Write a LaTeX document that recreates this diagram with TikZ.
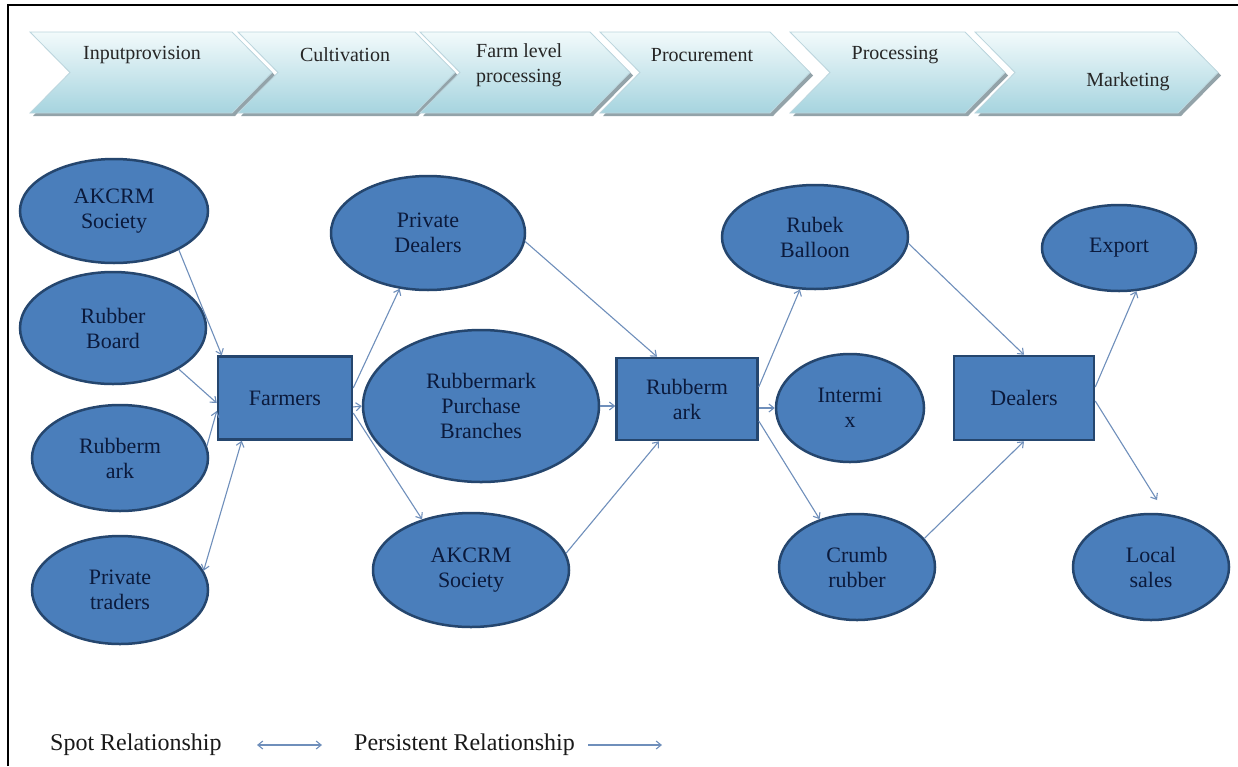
\documentclass[tikz,border=0pt]{standalone}
\usepackage{fontspec}
\setmainfont{Liberation Serif}
\usetikzlibrary{shapes.geometric,arrows.meta}
\definecolor{nodefill}{HTML}{4A7EBB}
\definecolor{nodeedge}{HTML}{25466E}
\definecolor{txt}{HTML}{0B1A3C}
\definecolor{conn}{HTML}{6F8FBB}
\definecolor{chtop}{HTML}{F2FAFB}
\definecolor{chbot}{HTML}{A6D4DF}
\definecolor{chedge}{HTML}{BCD6DE}
\definecolor{chshadow}{HTML}{93A3A9}
\newcommand{\mychev}[2]{%
  \fill[chshadow] (#1+3,35) -- (#2+3,35) -- (#2+43,75.5) -- (#2+3,116) -- (#1+3,116) -- (#1+43,75.5) -- cycle;
  \shadedraw[top color=chtop, bottom color=chbot, draw=chedge, line width=0.8pt] (#1,32) -- (#2,32) -- (#2+40,72.5) -- (#2,113) -- (#1,113) -- (#1+40,72.5) -- cycle;
}
\begin{document}
\begin{tikzpicture}[x=1pt,y=-1pt,
  oval/.style={ellipse, draw=nodeedge, line width=2.5pt, fill=nodefill, inner sep=0pt, align=center, text=txt, font=\fontsize{22}{25}\selectfont},
  boxnode/.style={rectangle, draw=nodeedge, line width=2.5pt, fill=nodefill, inner sep=0pt, align=center, text=txt, font=\fontsize{22}{25}\selectfont},
  rel/.style={draw=conn, line width=1.1pt, -{Straight Barb[length=5pt,width=8pt]}},
  spot/.style={draw=conn, line width=1.1pt, {Straight Barb[length=5pt,width=8pt]}-{Straight Barb[length=5pt,width=8pt]}},
  chtext/.style={text=black!85, font=\fontsize{20}{25}\selectfont, align=left, inner sep=0pt},
  legtext/.style={text=black!90, font=\fontsize{24}{28}\selectfont, inner sep=0pt, anchor=west},
]
\useasboundingbox (0,0) rectangle (1238,766);
\fill[white] (0,0) rectangle (1238,766);
% frame
\draw[line width=2.5pt, black] (8,766) -- (8,5) -- (1238,5);

% chevrons
\mychev{30}{232}
\mychev{238}{415}
\mychev{420}{590}
\mychev{600}{770}
\mychev{790}{965}
\mychev{975}{1178}
\node[chtext] (c1) at (142,55) {Inputprovision};
\node[chtext] (c2) at (345,55) {Cultivation};
\node[chtext, anchor=west] (c3) at (476,65) {Farm level\\processing};
\node[chtext] (c4) at (702,55) {Procurement};
\node[chtext] (c5) at (895,55) {Processing};
\node[chtext] (c6) at (1128,82) {Marketing};

% nodes
\node[oval, minimum width=188pt, minimum height=104pt] (ak1) at (114,211) {AKCRM\\Society};
\node[oval, minimum width=186pt, minimum height=112pt] (rb) at (113,328) {Rubber\\Board};
\node[oval, minimum width=176pt, minimum height=106pt] (rm1) at (120,458) {Rubberm\\ark};
\node[oval, minimum width=176pt, minimum height=108pt] (pt) at (120,590) {Private\\traders};
\node[boxnode, minimum width=134pt, minimum height=83pt] (farm) at (285,398) {Farmers};
\node[oval, minimum width=194pt, minimum height=114pt] (pd) at (428,233) {Private\\Dealers};
\node[oval, minimum width=236pt, minimum height=152pt] (rpb) at (481,406) {Rubbermark\\Purchase\\Branches};
\node[oval, minimum width=196pt, minimum height=114pt] (ak2) at (471,570) {AKCRM\\Society};
\node[boxnode, minimum width=141pt, minimum height=82pt] (rm2) at (687,399) {Rubberm\\ark};
\node[oval, minimum width=186pt, minimum height=104pt] (rb2) at (815,237) {Rubek\\Balloon};
\node[oval, minimum width=148pt, minimum height=108pt] (im) at (850,408) {Intermi\\x};
\node[oval, minimum width=156pt, minimum height=106pt] (cr) at (857,567) {Crumb\\rubber};
\node[boxnode, minimum width=140pt, minimum height=84pt] (dl) at (1024,398) {Dealers};
\node[oval, minimum width=154pt, minimum height=86pt] (ex) at (1119,248) {Export};
\node[oval, minimum width=156pt, minimum height=106pt] (ls) at (1151,567) {Local\\sales};
\coordinate (lsend) at (1157,500);

% connectors
\draw[rel] (ak1.-31) -- ([xshift=5pt]farm.north west);
\draw[rel] (rb.-32) -- ([yshift=-5pt]farm.west);
\draw[rel] (rm1.8) -- ([yshift=-13pt]farm.west);
\draw[spot] (pt.13) -- ([xshift=25pt]farm.south west);
\draw[rel] ([yshift=10pt]farm.east) -- (pd.-117);
\draw[rel] ([yshift=-9pt]farm.east) -- (rpb.west);
\draw[rel] ([yshift=-15pt]farm.east) -- (ak2.134);
\draw[rel] (pd.-5) -- ([xshift=-30pt]rm2.north);
\draw[rel] (rpb.east) -- (rpb.east -| rm2.west);
\draw[rel] (ak2.10) -- ([xshift=-28pt]rm2.south);
\draw[rel] ([yshift=12pt]rm2.east) -- (rb2.-106);
\draw[rel] (rm2.east |- im.west) -- (im.west);
\draw[rel] ([yshift=-22pt]rm2.east) -- (cr.128);
\draw[rel] (rb2.-4) -- (dl.north);
\draw[rel] (cr.23) -- (dl.south);
\draw[rel] ([yshift=11pt]dl.east) -- (ex.-68);
\draw[rel] ([yshift=-3pt]dl.east) -- (lsend);

% legend
\node[legtext] (lspot) at (50,745) {Spot Relationship};
\coordinate (sa) at (257,745);
\coordinate (sb) at (322,745);
\draw[spot] (sa) -- (sb);
\node[legtext] (lpers) at (354,745) {Persistent Relationship};
\coordinate (pa) at (588,745);
\coordinate (pb) at (662,745);
\draw[rel] (pa) -- (pb);
\end{tikzpicture}
\end{document}
